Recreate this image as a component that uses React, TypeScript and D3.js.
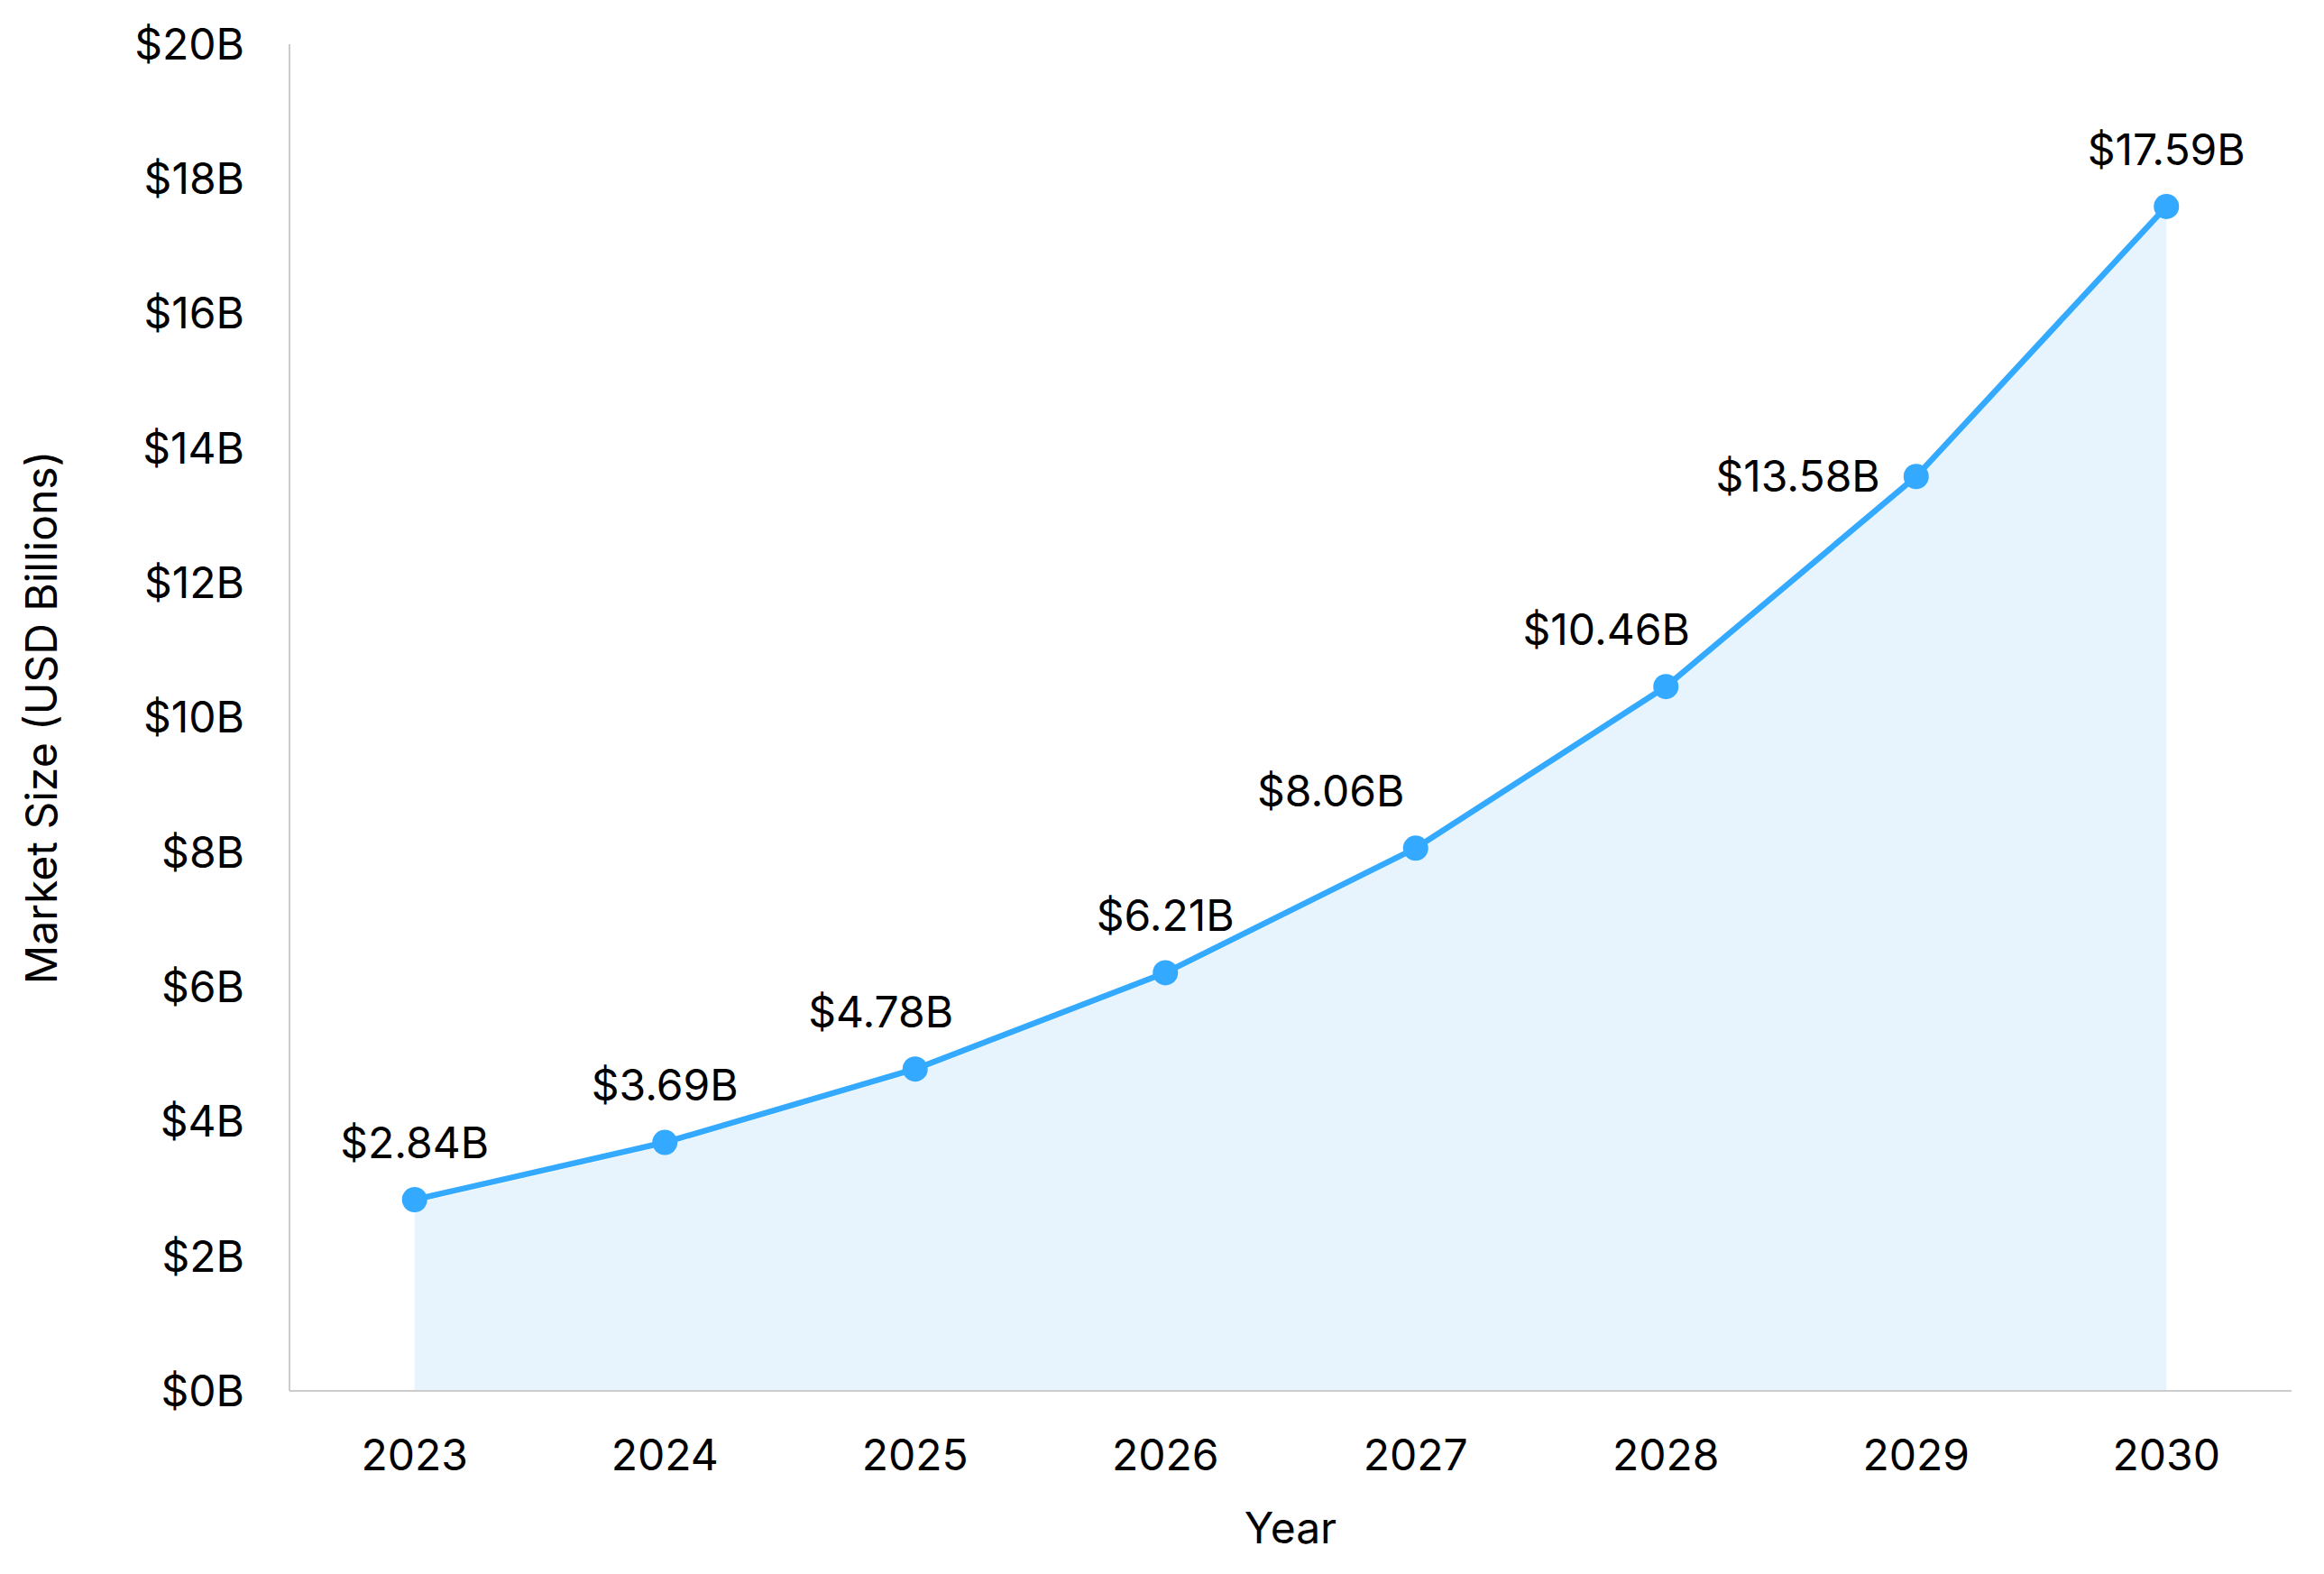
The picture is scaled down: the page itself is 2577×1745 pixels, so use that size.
import * as d3 from 'd3';

const years = ['2023', '2024', '2025', '2026', '2027', '2028', '2029', '2030'];
const marketSize = [2.84, 3.69, 4.78, 6.21, 8.06, 10.46, 13.58, 17.59];
const yTicks = [0, 2, 4, 6, 8, 10, 12, 14, 16, 18, 20];

// label placement per point: horizontal shift and whether it sits beside the point
const labelDx = [0, 0, -38, 0, -94, -66, -40, 0];
const labelSide = [false, false, false, false, false, false, true, false];

const W = 2577;
const H = 1745;
const margin = { top: 49, right: 36, bottom: 203, left: 321 };
const FONT = 'Inter, "Noto Sans", sans-serif';
const LINE = '#33aaff';
const FS = 48;

export default function App() {
  const x = d3.scalePoint<string>()
    .domain(years)
    .range([margin.left, W - margin.right])
    .padding(0.5);
  const y = d3.scaleLinear().domain([0, 20]).range([H - margin.bottom, margin.top]);

  const pts = years.map((yr, i) => ({ yr, v: marketSize[i], px: x(yr)!, py: y(marketSize[i]) }));

  const area = d3.area<typeof pts[number]>()
    .x(d => d.px)
    .y0(y(0))
    .y1(d => d.py + 4);
  const line = d3.line<typeof pts[number]>().x(d => d.px).y(d => d.py);

  const x0 = margin.left;
  const x1 = W - margin.right;
  const yBottom = y(0);

  return (
    <div style={{ position: 'absolute', left: 0, top: 0 }}>
      <svg width={W} height={H} style={{ display: 'block', background: '#fff' }} fontFamily={FONT}>
        {/* area + line */}
        <path d={area(pts) || ''} fill="#e8f4fd" />
        <path d={line(pts) || ''} fill="none" stroke={LINE} strokeWidth={6.5} strokeLinejoin="round" />

        {/* axes */}
        <line x1={x0} x2={x0} y1={margin.top} y2={yBottom} stroke="#cccccc" strokeWidth={2} />
        <line x1={x0} x2={x1} y1={yBottom} y2={yBottom} stroke="#cccccc" strokeWidth={2} />

        {yTicks.map(t => (
          <text key={t} x={271} y={y(t)} dy="0.35em" textAnchor="end" fontSize={FS} fill="#000">
            {`$${t}B`}
          </text>
        ))}

        {years.map(yr => (
          <text key={yr} x={x(yr)} y={1613} dy="0.35em" textAnchor="middle" fontSize={FS} fill="#000">
            {yr}
          </text>
        ))}

        {/* points */}
        {pts.map(p => (
          <circle key={p.yr} cx={p.px} cy={p.py} r={14} fill={LINE} />
        ))}

        {/* value labels */}
        {pts.map((p, i) => (
          labelSide[i] ? (
            <text key={p.yr} x={p.px + labelDx[i]} y={p.py} dy="0.35em" textAnchor="end" fontSize={FS} fill="#000">
              {`$${p.v.toFixed(2)}B`}
            </text>
          ) : (
            <text key={p.yr} x={p.px + labelDx[i]} y={p.py - 63} dy="0.35em" textAnchor="middle" fontSize={FS} fill="#000">
              {`$${p.v.toFixed(2)}B`}
            </text>
          )
        ))}

        {/* axis titles */}
        <text x={(x0 + x1) / 2} y={1694} dy="0.35em" textAnchor="middle" fontSize={FS} fill="#000">Year</text>
        <text
          transform={`translate(46, ${(margin.top + yBottom) / 2}) rotate(-90)`}
          dy="0.35em"
          textAnchor="middle"
          fontSize={FS}
          fill="#000"
        >
          Market Size (USD Billions)
        </text>
      </svg>
    </div>
  );
}
